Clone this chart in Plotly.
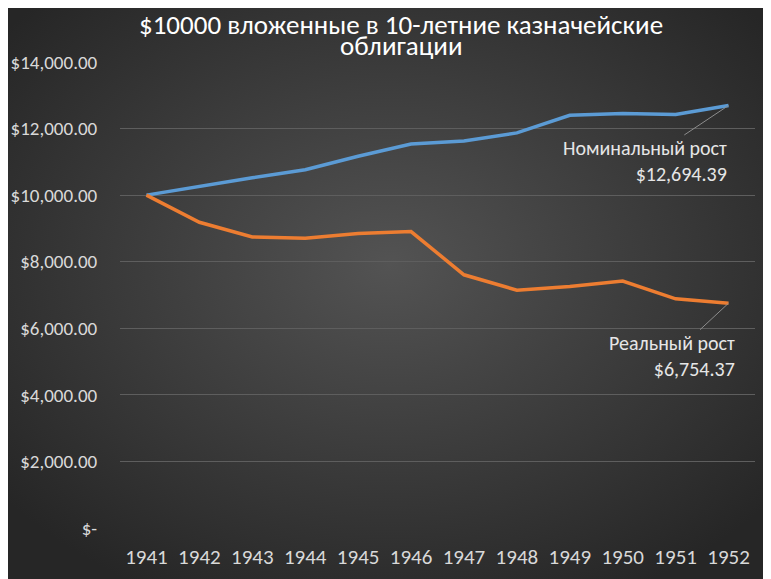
import base64
import plotly.graph_objects as go

years = ['1941', '1942', '1943', '1944', '1945', '1946',
         '1947', '1948', '1949', '1950', '1951', '1952']
nominal = [10000, 10270, 10520, 10765, 11170, 11535,
           11630, 11870, 12400, 12450, 12420, 12694.39]
real = [10000, 9185, 8745, 8705, 8845, 8905,
        7607, 7146, 7255, 7418, 6885, 6754.37]

y_ticks = [0, 2000, 4000, 6000, 8000, 10000, 12000, 14000]
y_ticktext = ['$-', '$2,000.00', '$4,000.00', '$6,000.00',
              '$8,000.00', '$10,000.00', '$12,000.00', '$14,000.00']

title_lines = ['$10000 вложенные в 10-летние казначейские', 'облигации']
FONT = 'Calibri, Carlito, Lato, sans-serif'

# the page adds an 8px body margin, so the figure is a bit smaller than the window
W, H = 763, 571
L, R, T, B = 112, 16, 54, 51

# radial dark background like the Excel style
svg = f'''<svg xmlns="http://www.w3.org/2000/svg" width="{W}" height="{H}">
<defs><radialGradient id="g" cx="50%" cy="45%" r="65%">
<stop offset="0%" stop-color="#535353"/><stop offset="100%" stop-color="#262626"/>
</radialGradient></defs><rect width="100%" height="100%" fill="url(#g)"/></svg>'''
bg = 'data:image/svg+xml;base64,' + base64.b64encode(svg.encode()).decode()

pw, ph = W - L - R, H - T - B

fig = go.Figure()
fig.add_trace(go.Scatter(x=years, y=nominal, mode='lines', name='Номинальный рост',
                         line=dict(color='#5B9BD5', width=3.5)))
fig.add_trace(go.Scatter(x=years, y=real, mode='lines', name='Реальный рост',
                         line=dict(color='#ED7D31', width=3.5)))

fig.add_annotation(x=len(years) - 1, y=nominal[-1],
                   text='Номинальный рост<br>${:,.2f}'.format(nominal[-1]),
                   showarrow=True, arrowhead=0, arrowwidth=1, arrowcolor='#8c8c8c',
                   ax=-84, ay=56, align='right',
                   font=dict(family=FONT, size=20, color='#e6e6e6'))
fig.add_annotation(x=len(years) - 1, y=real[-1],
                   text='Реальный рост<br>${:,.2f}'.format(real[-1]),
                   showarrow=True, arrowhead=0, arrowwidth=1, arrowcolor='#8c8c8c',
                   ax=-57, ay=53, align='right',
                   font=dict(family=FONT, size=20, color='#e6e6e6'))

# title as two annotations: the line spacing in the original is tight
for line, yc in zip(title_lines, [16.5, 38]):
    fig.add_annotation(text=line, showarrow=False,
                       xref='paper', yref='paper',
                       x=(393 - L) / pw, y=1 + (T - yc) / ph,
                       xanchor='center', yanchor='middle',
                       font=dict(family=FONT, size=27, color='#ffffff'))

fig.update_layout(
    width=W, height=H,
    margin=dict(l=L, r=R, t=T, b=B),
    paper_bgcolor='#262626',
    plot_bgcolor='rgba(0,0,0,0)',
    showlegend=False,
    font=dict(family=FONT, size=20, color='#d9d9d9'),
    images=[dict(source=bg, xref='paper', yref='paper',
                 x=-L / pw, y=1 + T / ph, sizex=W / pw, sizey=H / ph,
                 xanchor='left', yanchor='top', sizing='stretch', layer='below')],
)
# invisible ticks give the gap between labels and plot area
fig.update_xaxes(type='category', range=[-0.5, len(years) - 0.5], automargin=False,
                 showgrid=False, showline=False, zeroline=False,
                 ticks='outside', ticklen=10, tickcolor='rgba(0,0,0,0)',
                 tickfont=dict(size=21, color='#d9d9d9'))
fig.update_yaxes(range=[0, 14000], tickvals=y_ticks, ticktext=y_ticktext,
                 automargin=False,
                 showgrid=True, gridcolor='#5e5e5e', gridwidth=1,
                 zeroline=False, showline=False,
                 ticks='outside', ticklen=18, tickcolor='rgba(0,0,0,0)',
                 tickfont=dict(size=19, color='#d9d9d9'))

fig.write_html('out.html')
